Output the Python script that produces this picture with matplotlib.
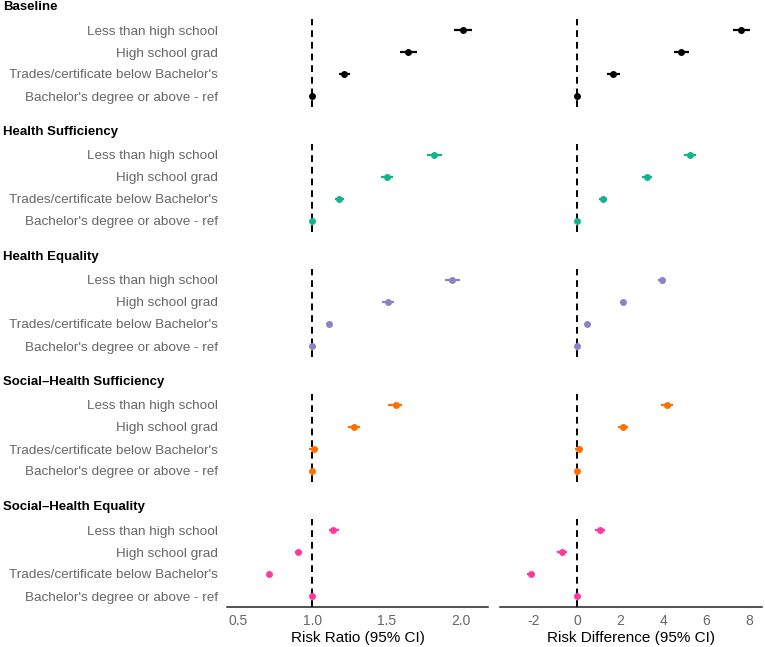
import matplotlib
matplotlib.use("Agg")
import matplotlib.pyplot as plt

plt.rcParams['font.family'] = ['Liberation Sans', 'DejaVu Sans']

groups = ["Baseline", "Health Sufficiency", "Health Equality",
          "Social\u2013Health Sufficiency", "Social\u2013Health Equality"]
categories = ["Less than high school", "High school grad",
              "Trades/certificate below Bachelor's", "Bachelor's degree or above - ref"]
colors = ["#000000", "#12B48C", "#8A84C6", "#FF7000", "#FF3A9E"]

# Risk ratio estimates and CIs (per group, per category)
rr_est = [[2.01, 1.64, 1.215, 1.0],
          [1.82, 1.50, 1.18, 1.0],
          [1.94, 1.51, 1.11, 1.0],
          [1.56, 1.28, 1.01, 1.0],
          [1.14, 0.906, 0.71, 1.0]]
rr_lo = [[1.95, 1.59, 1.18, 1.0],
         [1.77, 1.46, 1.15, 1.0],
         [1.89, 1.47, 1.09, 1.0],
         [1.51, 1.24, 0.98, 1.0],
         [1.11, 0.88, 0.70, 1.0]]
rr_hi = [[2.07, 1.70, 1.255, 1.0],
         [1.87, 1.54, 1.21, 1.0],
         [1.99, 1.55, 1.13, 1.0],
         [1.60, 1.32, 1.04, 1.0],
         [1.18, 0.93, 0.72, 1.0]]

# Risk difference estimates and CIs
rd_est = [[7.63, 4.84, 1.67, 0.0],
          [5.26, 3.26, 1.21, 0.0],
          [3.95, 2.14, 0.47, 0.0],
          [4.19, 2.14, 0.10, 0.0],
          [1.05, -0.70, -2.14, 0.0]]
rd_lo = [[7.26, 4.50, 1.40, 0.0],
         [4.98, 3.02, 1.02, 0.0],
         [3.77, 2.00, 0.40, 0.0],
         [3.90, 1.90, -0.10, 0.0],
         [0.82, -0.93, -2.33, 0.0]]
rd_hi = [[8.05, 5.20, 2.00, 0.0],
         [5.53, 3.50, 1.40, 0.0],
         [4.14, 2.28, 0.55, 0.0],
         [4.47, 2.38, 0.28, 0.0],
         [1.28, -0.47, -1.95, 0.0]]

rr_ticks = [0.5, 1.0, 1.5, 2.0]
rd_ticks = [-2, 0, 2, 4, 6, 8]

W, H = 765, 647
fig = plt.figure(figsize=(W / 100, H / 100), dpi=100)

def fax(x0, top, w, h):
    return fig.add_axes([x0 / W, 1 - (top + h) / H, w / W, h / H])

tick_color = "#666666"
ypos = [4, 3, 2, 1]
for gi, g in enumerate(groups):
    top = 19 + 125 * gi
    axL = fax(227, top, 261, 88)
    axR = fax(500, top, 262, 88)
    for ax, est, lo, hi, ref, xlim in [
        (axL, rr_est, rr_lo, rr_hi, 1.0, (0.426, 2.18)),
        (axR, rd_est, rd_lo, rd_hi, 0.0, (-3.58, 8.6))]:
        ax.axvline(ref, color="black", linestyle=(0, (3.5, 2.5)), linewidth=1.4, zorder=1)
        for ci in range(4):
            ax.plot([lo[gi][ci], hi[gi][ci]], [ypos[ci], ypos[ci]],
                    color=colors[gi], linewidth=1.6, solid_capstyle="butt", zorder=2)
        ax.plot(est[gi], ypos, 'o', color=colors[gi], markersize=5, zorder=3,
                markeredgewidth=0)
        ax.set_xlim(*xlim)
        ax.set_ylim(0.5, 4.5)
        for s in ax.spines.values():
            s.set_visible(False)
        ax.tick_params(length=0)
        ax.set_facecolor("none")
    axL.set_yticks(ypos)
    axL.set_yticklabels(categories, fontsize=9.7, color=tick_color)
    axL.tick_params(axis='y', pad=6.5)
    axR.set_yticks([])
    fig.text(3 / W, 1 - (top - 12) / H, g, fontsize=9.5, fontweight="bold",
             ha="left", va="center", color="black")
    if gi == len(groups) - 1:
        for ax, ticks, lab in [(axL, rr_ticks, "Risk Ratio (95% CI)"),
                               (axR, rd_ticks, "Risk Difference (95% CI)")]:
            ax.spines['bottom'].set_visible(True)
            ax.spines['bottom'].set_color("#222222")
            ax.spines['bottom'].set_linewidth(1.1)
            ax.set_xticks(ticks)
            ax.set_xticklabels([("%.1f" % t) if ax is axL else str(t) for t in ticks],
                               fontsize=10, color=tick_color)
            ax.tick_params(axis='x', pad=5)
            ax.set_xlabel(lab, fontsize=11, color="black", labelpad=2)
    else:
        axL.set_xticks([])
        axR.set_xticks([])

fig.savefig("out.png", dpi=100)
